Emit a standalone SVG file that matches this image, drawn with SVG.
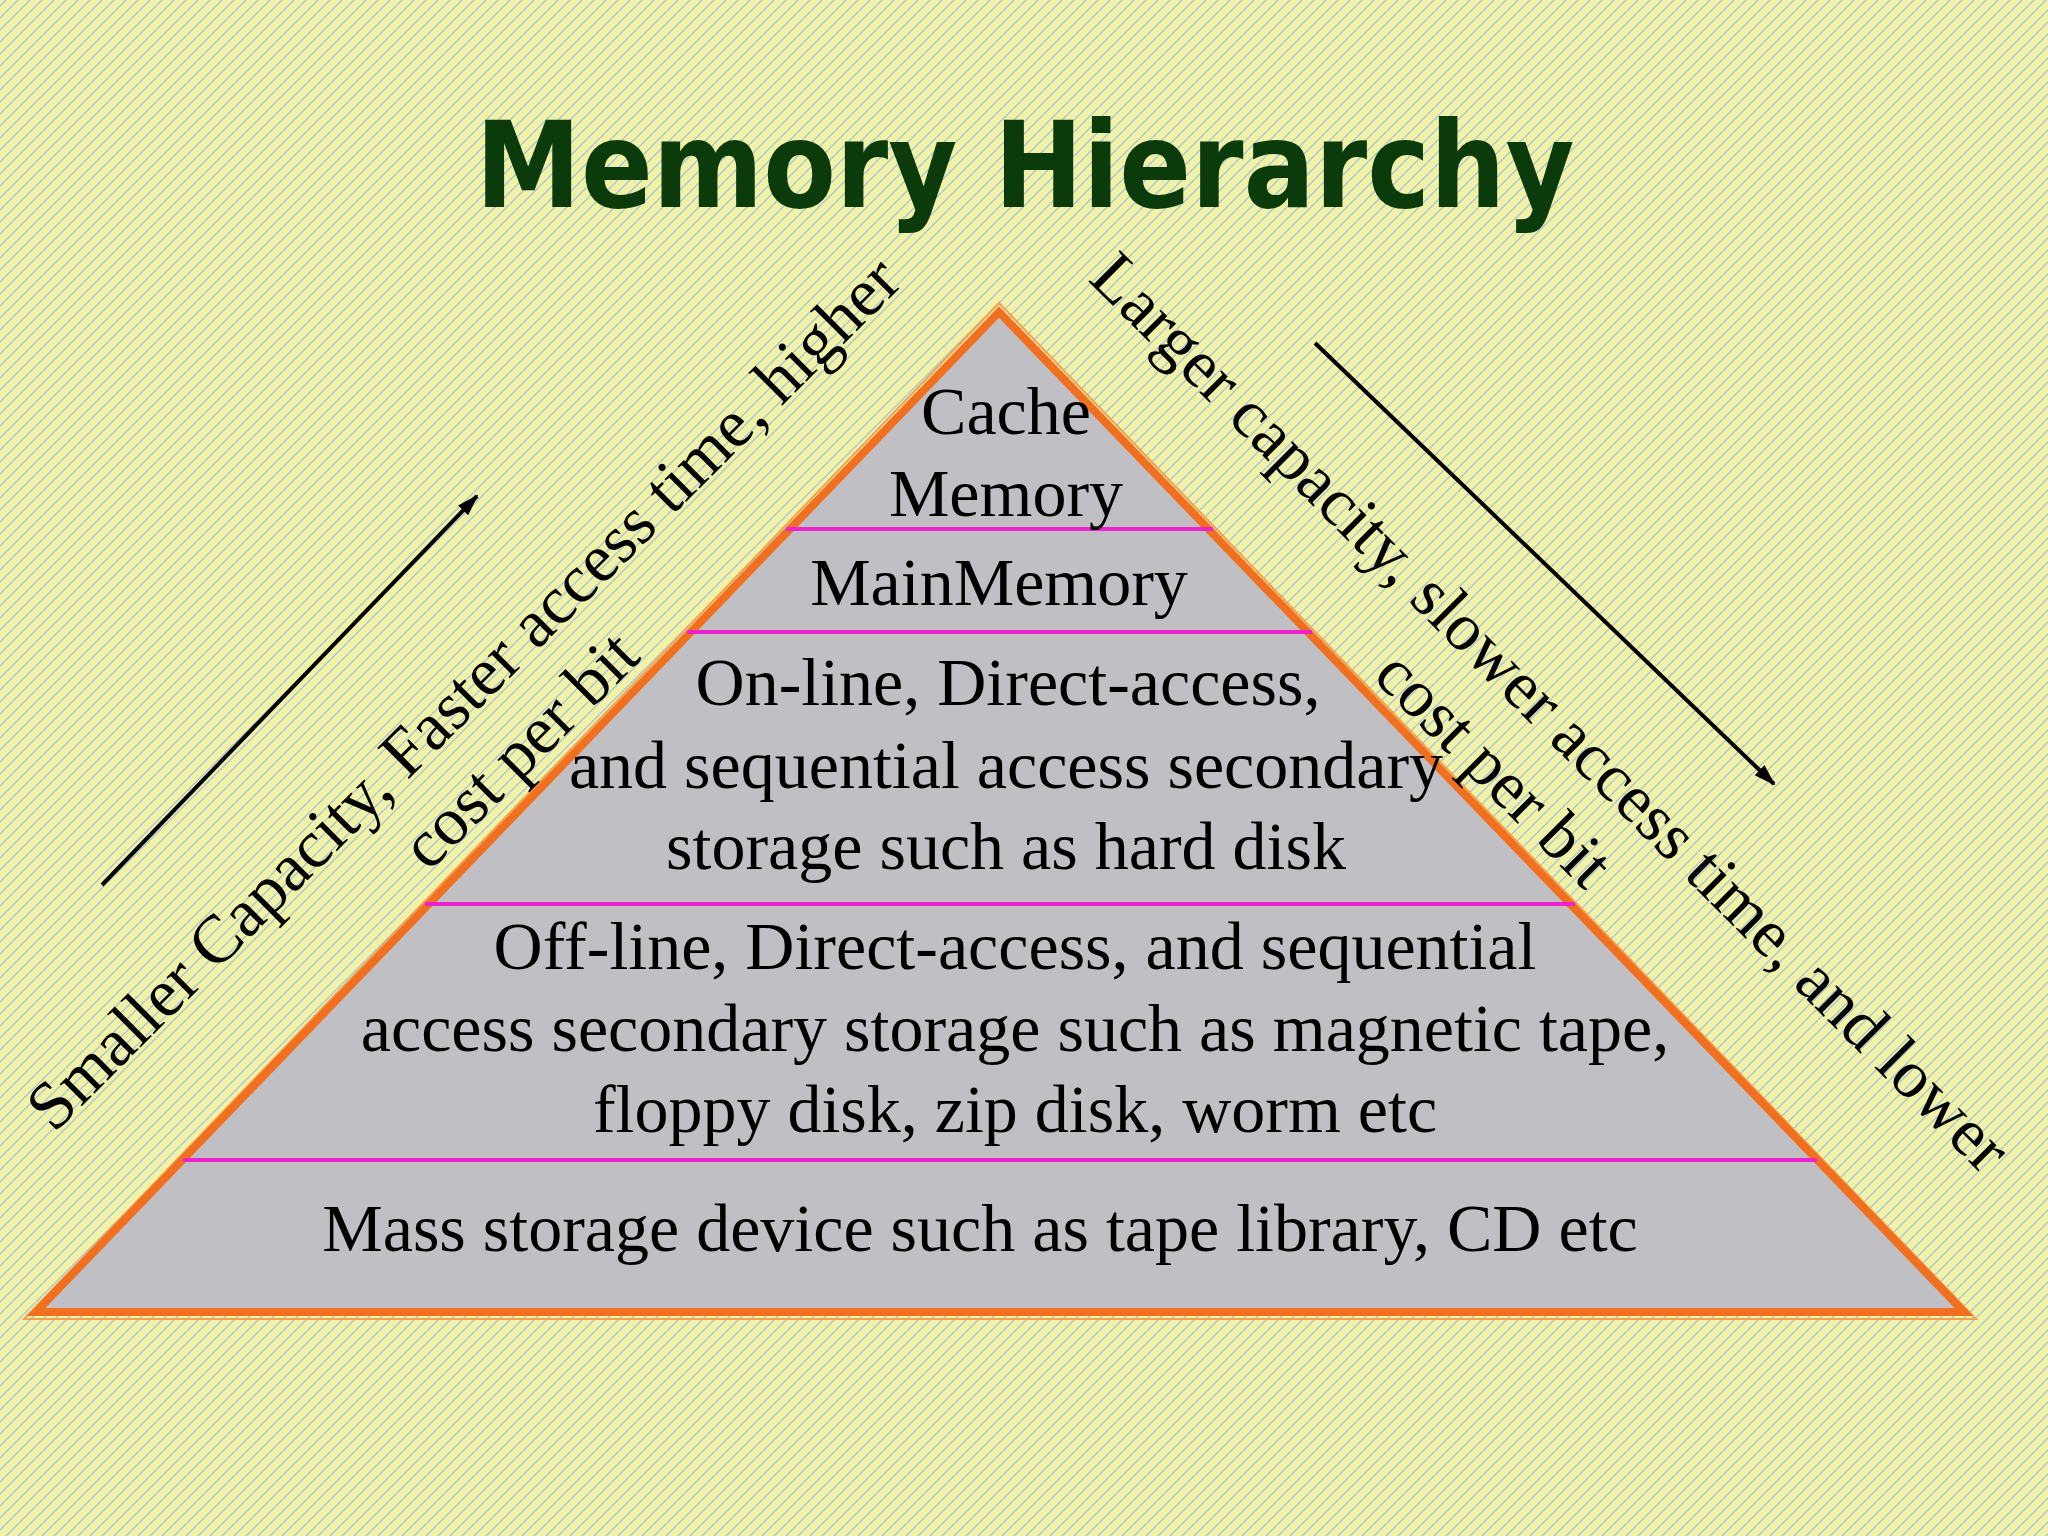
<svg xmlns="http://www.w3.org/2000/svg" width="2048" height="1536" viewBox="0 0 2048 1536">
<defs>
<pattern id="bg" width="12" height="12" patternUnits="userSpaceOnUse">
<rect width="12" height="12" fill="#f2f2a6"/>
<path d="M0 6 L6 0 M6 12 L12 6" stroke="#a9c8d8" stroke-width="1.5"/>
</pattern>
<marker id="ah" markerWidth="22" markerHeight="18" refX="20" refY="9" orient="auto" markerUnits="userSpaceOnUse" viewBox="0 0 22 18">
<path d="M0 2 L22 9 L0 16 Z" fill="#000"/>
</marker>
<style>
.t{font-family:"Liberation Serif",serif;font-size:68px;fill:#000;text-anchor:middle}
.sep{stroke:#ee22cc;stroke-width:4}
</style>
</defs>
<rect width="2048" height="1536" fill="url(#bg)"/>
<text x="1025" y="207" font-family="'Comic Sans MS','DejaVu Sans',sans-serif" font-size="106" font-weight="bold" fill="#0b3a0b" text-anchor="middle" transform="translate(1025,207) scale(1,1.12) translate(-1025,-207)">Memory Hierarchy</text>
<g id="pyramid">
<polygon points="999,303 24,1319 1976,1319" fill="none" stroke="#f5a050" stroke-width="2"/>
<polygon points="999,312 36,1312 1964,1312" fill="#c0bfc4" stroke="#f07020" stroke-width="8"/>
</g>
<g id="separators">
<line class="sep" x1="786" y1="529" x2="1213" y2="529"/>
<line class="sep" x1="687" y1="632" x2="1312" y2="632"/>
<line class="sep" x1="425" y1="904" x2="1575" y2="904"/>
<line class="sep" x1="183" y1="1160" x2="1817" y2="1160"/>
</g>
<g id="cache"><text class="t" x="1006" y="434">Cache</text><text class="t" x="1006" y="516">Memory</text></g>
<g id="main"><text class="t" x="999" y="605">MainMemory</text></g>
<g id="online"><text class="t" x="1008" y="705">On-line, Direct-access,</text><text class="t" x="1006" y="788">and sequential access secondary</text><text class="t" x="1006" y="869">storage such as hard disk</text></g>
<g id="offline"><text class="t" x="1015" y="969">Off-line, Direct-access, and sequential</text><text class="t" x="1015" y="1051">access secondary storage such as magnetic tape,</text><text class="t" x="1015" y="1132">floppy disk, zip disk, worm etc</text></g>
<g id="mass"><text class="t" x="980" y="1251">Mass storage device such as tape library, CD etc</text></g>
<g id="left-label" transform="translate(479,709) rotate(-45)">
<text class="t" x="0" y="0">Smaller Capacity, Faster access time, higher</text>
<text class="t" x="0" y="80">cost per bit</text>
</g>
<g id="right-label" transform="translate(1535,728) rotate(45)">
<text class="t" x="0" y="0">Larger capacity, slower access time, and lower</text>
<text class="t" x="0" y="80">cost per bit</text>
</g>
<g id="connectors" stroke="#000" stroke-width="4" marker-end="url(#ah)">
<line x1="102" y1="885" x2="477" y2="496"/>
<line x1="1315" y1="343" x2="1774" y2="784"/>
</g>
</svg>
